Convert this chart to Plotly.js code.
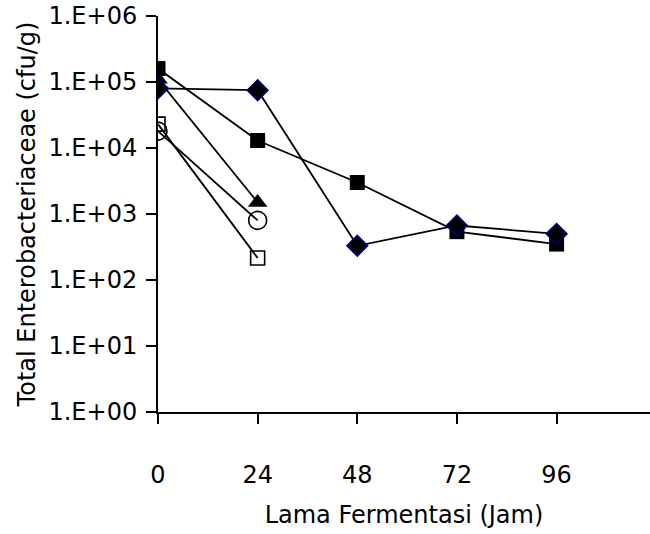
<!DOCTYPE html>
<html>
<head>
<meta charset="utf-8">
<script src="https://cdn.plot.ly/plotly-3.0.1.min.js"></script>
<style>html,body{margin:0;padding:0;background:#fff;}#chart{width:650px;height:534px;}</style>
</head>
<body>
<div id="chart"></div>
<script>
// Hours of fermentation
const hoursLong = [0, 24, 48, 72, 96];
const hoursShort = [0, 24];

// Series values (cfu/g)
const diamondSeries = [80000, 75000, 330, 670, 500];
const filledSquareSeries = [160000, 13000, 3000, 540, 350];
const triangleSeries = [110000, 1500];
const circleSeries = [18000, 800];
const openSquareSeries = [23000, 215];

// Tick labels
const xTicks = [0, 24, 48, 72, 96];
const yTickVals = [1, 10, 100, 1000, 10000, 100000, 1000000];
const yTickText = ["1.E+00", "1.E+01", "1.E+02", "1.E+03", "1.E+04", "1.E+05", "1.E+06"];

const FONT = "DejaVu Sans, sans-serif";
const FS = 24;
const lineStyle = {color: "#000", width: 1.8};

const traces = [
  {x: hoursShort, y: openSquareSeries, mode: "lines+markers", line: lineStyle,
   marker: {symbol: "square-open", size: 14, color: "#000", line: {width: 1.6, color: "#000"}}},
  {x: hoursShort, y: circleSeries, mode: "lines+markers", line: lineStyle,
   marker: {symbol: "circle-open", size: 18, color: "#000", line: {width: 1.6, color: "#000"}}},
  {x: hoursShort, y: triangleSeries, mode: "lines+markers", line: lineStyle,
   marker: {symbol: "triangle-up", size: 17, color: "#000", line: {width: 0}}},
  {x: hoursLong, y: filledSquareSeries, mode: "lines+markers", line: lineStyle,
   marker: {symbol: "square", size: 15, color: "#000", line: {width: 0}}},
  {x: hoursLong, y: diamondSeries, mode: "lines+markers", line: lineStyle,
   marker: {symbol: "diamond", size: 16, color: "#000", line: {width: 1.5, color: "#000080"}}}
];

const layout = {
  width: 650, height: 534,
  margin: {l: 158, r: 0, t: 16, b: 122},
  paper_bgcolor: "#fff", plot_bgcolor: "#fff",
  showlegend: false,
  font: {family: FONT, size: FS, color: "#000"},
  xaxis: {
    range: [0, 118.5], tickvals: xTicks, ticktext: xTicks.map(String),
    showgrid: false, zeroline: false, showline: true, linecolor: "#000", linewidth: 2,
    ticks: "outside", ticklen: 10, tickwidth: 2, tickcolor: "#000",
    ticklabelstandoff: 30,
    tickfont: {family: FONT, size: FS, color: "#000"},
    title: {text: "Lama Fermentasi (Jam)", font: {family: FONT, size: FS, color: "#000"}, standoff: 18}
  },
  yaxis: {
    type: "log", range: [0, 6], tickvals: yTickVals, ticktext: yTickText,
    showgrid: false, zeroline: false, showline: true, linecolor: "#000", linewidth: 2,
    ticks: "outside", ticklen: 10, tickwidth: 2, tickcolor: "#000",
    ticklabelstandoff: 4,
    tickfont: {family: FONT, size: FS, color: "#000"},
    title: {text: "Total Enterobacteriaceae (cfu/g)", font: {family: FONT, size: FS, color: "#000"}, standoff: 6}
  }
};

Plotly.newPlot("chart", traces, layout, {displayModeBar: false, staticPlot: true});
</script>
</body>
</html>
